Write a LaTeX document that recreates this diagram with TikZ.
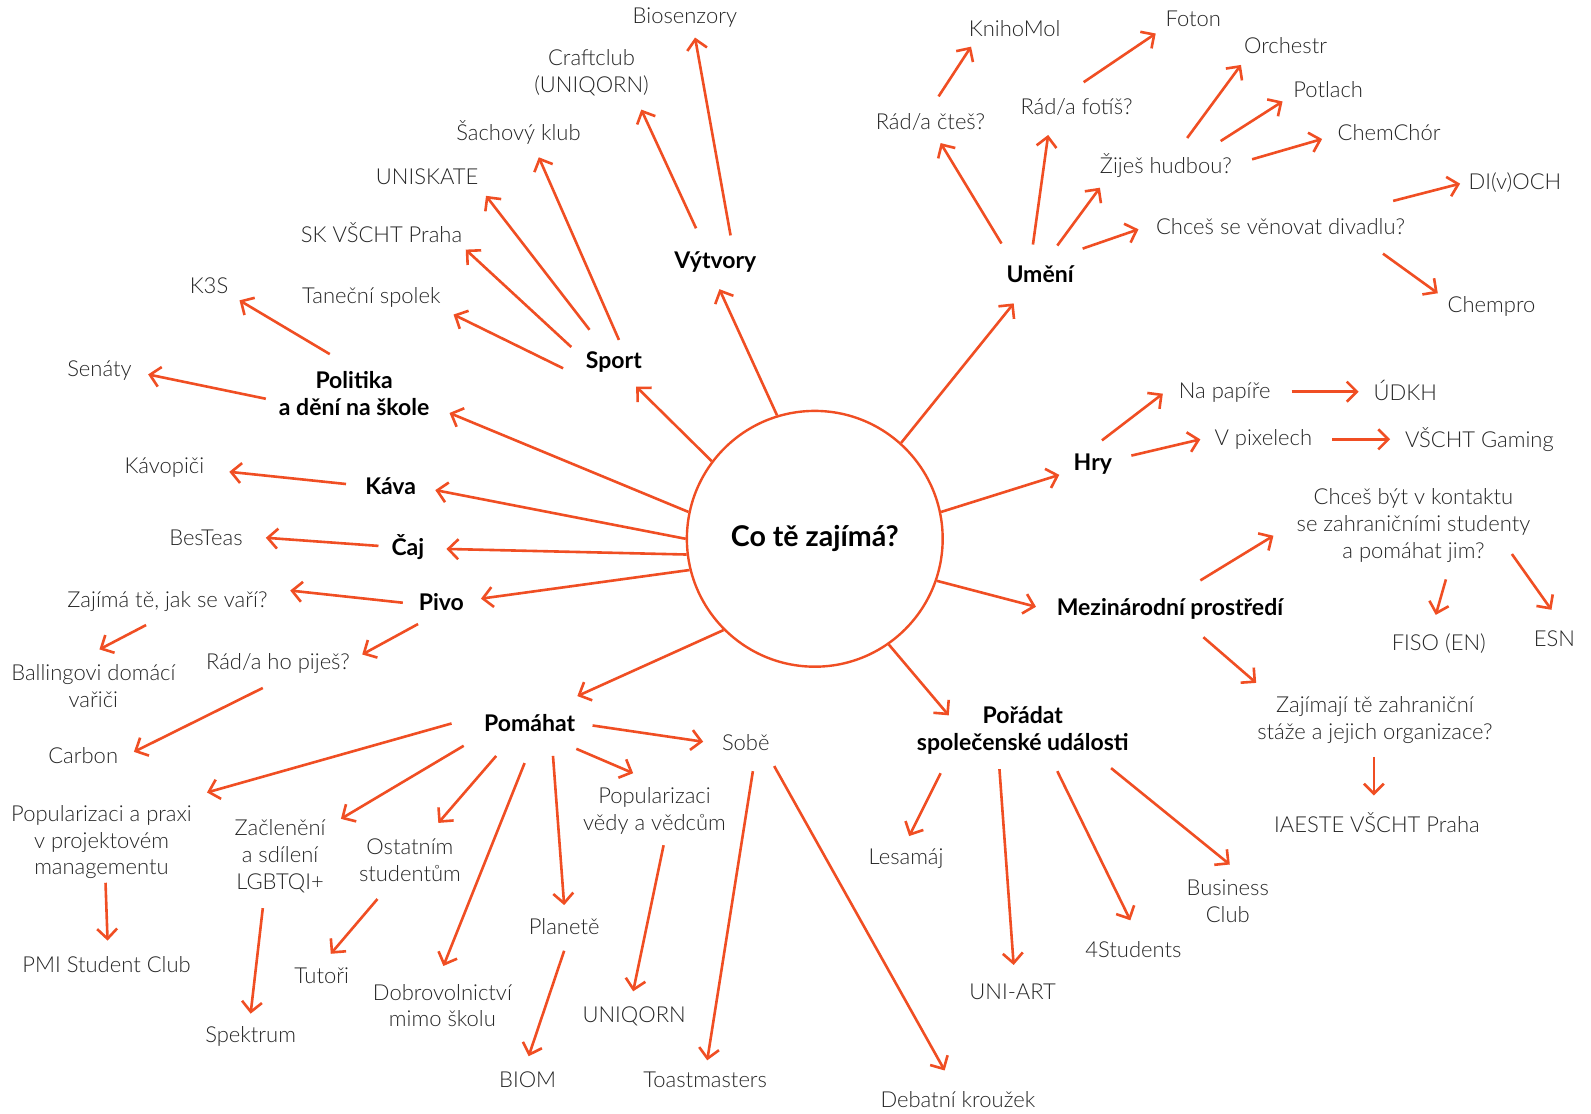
\documentclass[tikz,border=0pt]{standalone}
\usepackage{fontspec}
\setmainfont{Lato Light}[BoldFont={Lato Bold}]
\usetikzlibrary{arrows.meta,calc}
\definecolor{acc}{RGB}{240,78,35}
\definecolor{txt}{RGB}{38,38,38}
\tikzset{
 arr/.style={draw=acc, line width=1.3pt, -{Straight Barb[length=5pt,width=10pt]}},
 lbl/.style={text=txt, inner sep=0pt, align=center, font=\fontsize{11}{13.4}\selectfont},
 hd/.style={text=black, inner sep=0pt, align=center, font=\fontsize{11.5}{13.4}\selectfont\bfseries},
 hub/.style={circle, draw=acc, line width=1.2pt, minimum size=127.9pt, inner sep=0pt, fill=white, text=black, font=\fontsize{14.3}{16}\selectfont\bfseries},
}
\newcommand\conn[4]{\draw[arr] ($(#1.center)+(#2)$) -- ($(#3.center)+(#4)$);}
\newcommand\hubconn[3]{\draw[arr] (c.#1) -- ($(#2.center)+(#3)$);}
\begin{document}
\begin{tikzpicture}[x=0.50735pt,y=-0.50735pt]
\fill[white] (0,0) rectangle (1568,1097);
\useasboundingbox (0,0) rectangle (1568,1097);
% hub
\node[hub] (c) at (803,531) {Co tě zajímá?};
% branches
\node[hd] (vytvory) at (705,258) {Výtvory};
\node[hd] (sport) at (605,357) {Sport};
\node[hd] (politika) at (349,388) {Politika\\a dění na škole};
\node[hd] (kava) at (385,479) {Káva};
\node[hd] (caj) at (402,539) {Čaj};
\node[hd] (pivo) at (435,593) {Pivo};
\node[hd] (pomahat) at (522,713) {Pomáhat};
\node[hd] (poradat) at (1008,720) {Pořádat\\společenské události};
\node[hd] (mezi) at (1153,600) {Mezinárodní prostředí};
\node[hd] (hry) at (1077,457) {Hry};
\node[hd] (umeni) at (1025,270) {Umění};
% leaves
\node[lbl] (bio) at (675,17) {Biosenzory};
\node[lbl] (craft) at (583,72) {Craftclub\\(UNIQORN)};
\node[lbl] (sach) at (511,131) {Šachový klub};
\node[lbl] (unisk) at (421,174) {UNISKATE};
\node[lbl] (skv) at (376,229) {SK VŠCHT Praha};
\node[lbl] (tanec) at (366,293) {Taneční spolek};
\node[lbl] (k3s) at (206,282) {K3S};
\node[lbl] (senaty) at (98,365) {Senáty};
\node[lbl] (kavop) at (162,461) {Kávopiči};
\node[lbl] (besteas) at (203,530) {BesTeas};
\node[lbl] (zajima) at (165,593) {Zajímá tě, jak se vaří?};
\node[lbl] (ballin) at (92,676) {Ballingovi domácí\\vařiči};
\node[lbl] (radpij) at (274,654) {Rád/a ho piješ?};
\node[lbl] (carbon) at (82,745) {Carbon};
\node[lbl] (sobe) at (735,732) {Sobě};
\node[lbl] (popv) at (645,799) {Popularizaci\\vědy a vědcům};
\node[lbl] (planete) at (556,913) {Planetě};
\node[lbl] (dobro) at (436,991) {Dobrovolnictví\\mimo školu};
\node[lbl] (ostat) at (404,848) {Ostatním\\studentům};
\node[lbl] (zacle) at (276,844) {Začlenění\\a sdílení\\LGBTQI+};
\node[lbl] (popp) at (100,830) {Popularizaci a praxi\\v projektovém\\managementu};
\node[lbl] (pmi) at (105,951) {PMI Student Club};
\node[lbl] (spektr) at (247,1021) {Spektrum};
\node[lbl] (tutori) at (317,962) {Tutoři};
\node[lbl] (biom) at (520,1064) {BIOM};
\node[lbl] (uniq) at (625,1002) {UNIQORN};
\node[lbl] (toast) at (695,1064) {Toastmasters};
\node[lbl] (debat) at (944,1084) {Debatní kroužek};
\node[lbl] (lesam) at (893,846) {Lesamáj};
\node[lbl] (uniart) at (998,977) {UNI-ART};
\node[lbl] (fours) at (1117,936) {4Students};
\node[lbl] (busin) at (1210,888) {Business\\Club};
\node[lbl] (chcesbyt) at (1393,518) {Chceš být v kontaktu\\se zahraničními studenty\\a pomáhat jim?};
\node[lbl] (zajimaji) at (1355,710) {Zajímají tě zahraniční\\stáže a jejich organizace?};
\node[lbl] (fiso) at (1418,634) {FISO (EN)};
\node[lbl] (esn) at (1532,629) {ESN};
\node[lbl] (iaeste) at (1357,811) {IAESTE VŠCHT Praha};
\node[lbl] (napap) at (1207,387) {Na papíře};
\node[lbl] (pixel) at (1245,433) {V pixelech};
\node[lbl] (udkh) at (1385,385) {ÚDKH};
\node[lbl] (gaming) at (1458,433) {VŠCHT Gaming};
\node[lbl] (ctes) at (917,120) {Rád/a čteš?};
\node[lbl] (foti) at (1061,105) {Rád/a fotíš?};
\node[lbl] (hudba) at (1149,163) {Žiješ hudbou?};
\node[lbl] (divadlo) at (1262,223) {Chceš se věnovat divadlu?};
\node[lbl] (knih) at (1000,28) {KnihoMol};
\node[lbl] (foton) at (1176,19) {Foton};
\node[lbl] (orch) at (1267,45) {Orchestr};
\node[lbl] (potl) at (1309,88) {Potlach};
\node[lbl] (chemch) at (1369,131) {ChemChór};
\node[lbl] (divoch) at (1493,180) {DI(v)OCH};
\node[lbl] (chempro) at (1470,302) {Chempro};
% hub connectors
\hubconn{107}{vytvory}{4,27}
\hubconn{143}{sport}{22,24}
\hubconn{168}{politika}{94,19}
\hubconn{180}{kava}{44,4}
\hubconn{187}{caj}{38,2}
\hubconn{194}{pivo}{39,-3}
\hubconn{225}{pomahat}{47,-27}
\hubconn{305}{poradat}{-73,-15}
\hubconn{341}{mezi}{-132,-2}
\hubconn{12}{hry}{-33,11}
\hubconn{48}{umeni}{-26,29}
% Výtvory
\conn{vytvory}{15,-26}{bio}{10,20}
\conn{vytvory}{-19,-33}{craft}{49,36}
% Sport
\conn{sport}{5,-22}{sach}{20,24}
\conn{sport}{-24,-32}{unisk}{58,19}
\conn{sport}{-42,-15}{skv}{83,17}
\conn{sport}{-50,6}{tanec}{81,17}
% Politika
\conn{politika}{-24,-39}{k3s}{30,14}
\conn{politika}{-87,5}{senaty}{48,4}
% Káva, Čaj
\conn{kava}{-44,-2}{kavop}{64,4}
\conn{caj}{-29,-1}{besteas}{59,0}
% Pivo
\conn{pivo}{-38,1}{zajima}{121,-11}
\conn{pivo}{-23,22}{radpij}{83,-9}
\conn{zajima}{-21,23}{ballin}{6,-36}
\conn{radpij}{-15,24}{carbon}{50,-4}
% Pomáhat
\conn{pomahat}{62,2}{sobe}{-42,-1}
\conn{pomahat}{46,25}{popv}{-21,-37}
\conn{pomahat}{23,32}{planete}{0,-21}
\conn{pomahat}{-5,39}{dobro}{1,-39}
\conn{pomahat}{-33,32}{ostat}{28,-37}
\conn{pomahat}{-65,22}{zacle}{60,-37}
\conn{pomahat}{-77,0}{popp}{104,-49}
\conn{popp}{4,40}{pmi}{1,-24}
\conn{zacle}{-17,51}{spektr}{0,-22}
\conn{ostat}{-32,38}{tutori}{9,-22}
\conn{planete}{0,24}{biom}{1,-23}
\conn{popv}{9,34}{uniq}{-1,-25}
\conn{sobe}{7,28}{toast}{2,-19}
\conn{sobe}{28,23}{debat}{-13,-29}
% Pořádat
\conn{poradat}{-81,42}{lesam}{3,-22}
\conn{poradat}{-23,38}{uniart}{1,-26}
\conn{poradat}{34,40}{fours}{-3,-29}
\conn{poradat}{87,37}{busin}{2,-36}
% Mezinárodní
\conn{mezi}{30,-28}{chcesbyt}{-138,10}
\conn{mezi}{33,28}{zajimaji}{-117,-37}
\conn{chcesbyt}{32,53}{fiso}{-3,-28}
\conn{chcesbyt}{97,28}{esn}{-3,-28}
\conn{zajimaji}{-1,36}{iaeste}{-3,-27}
% Hry
\conn{hry}{9,-23}{napap}{-61,1}
\conn{hry}{38,-8}{pixel}{-62,0}
\conn{napap}{66,-1}{udkh}{-46,1}
\conn{pixel}{68,0}{gaming}{-88,0}
% Umění
\conn{umeni}{-38,-30}{ctes}{10,21}
\conn{umeni}{-7,-29}{foti}{-28,28}
\conn{umeni}{17,-28}{hudba}{-65,22}
\conn{umeni}{42,-25}{divadlo}{-140,3}
\conn{ctes}{8,-25}{knih}{-43,18}
\conn{foti}{7,-24}{foton}{-37,14}
\conn{hudba}{21,-27}{orch}{-44,19}
\conn{hudba}{54,-24}{potl}{-45,12}
\conn{hudba}{85,-6}{chemch}{-66,6}
\conn{divadlo}{111,-25}{divoch}{-54,1}
\conn{divadlo}{101,27}{chempro}{-53,-13}
\end{tikzpicture}
\end{document}
